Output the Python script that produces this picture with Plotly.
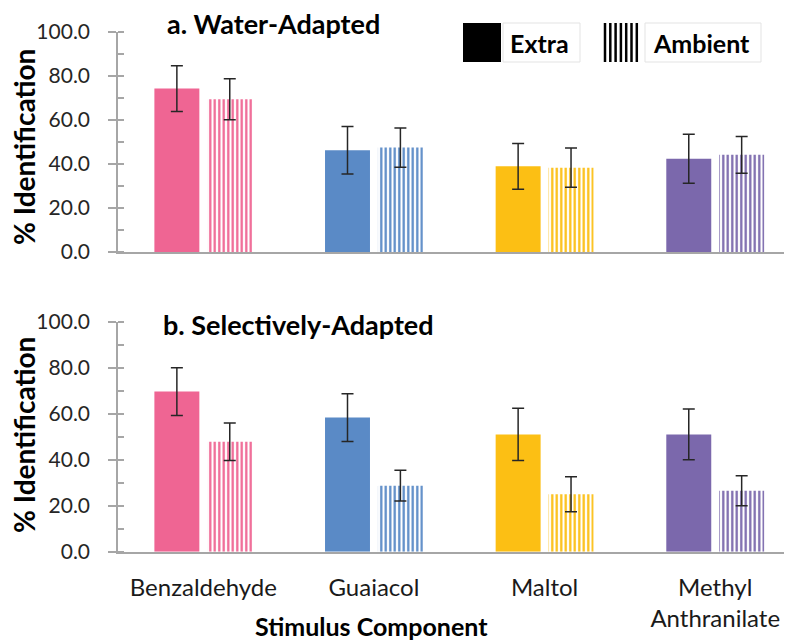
import plotly.graph_objects as go

categories = ["Benzaldehyde", "Guaiacol", "Maltol", "Methyl<br>Anthranilate"]
colors = ["#EF6593", "#5A8AC6", "#FCBF14", "#7B68AC"]

# Panel a: Water-Adapted
a_extra = [74.2, 46.2, 38.9, 42.3]
a_extra_err = [10.4, 10.8, 10.4, 11.1]
a_ambient = [69.3, 47.4, 38.3, 44.1]
a_ambient_err = [9.3, 8.9, 8.9, 8.3]

# Panel b: Selectively-Adapted
b_extra = [69.6, 58.3, 51.0, 51.0]
b_extra_err = [10.4, 10.4, 11.4, 11.0]
b_ambient = [47.8, 28.7, 25.0, 26.5]
b_ambient_err = [8.2, 6.7, 7.6, 6.5]

y_ticks = [0, 20, 40, 60, 80, 100]
y_ticktext = ["0.0", "20.0", "40.0", "60.0", "80.0", "100.0"]

# page body has an 8px margin; size the figure so it fits the 792x644 window
OX, OY = 8, 8
W, H = 784, 636
FONT = "Lato"


def px(x):
    return (x - OX) / W


def py(y):
    return 1 - (y - OY) / H


fig = go.Figure()

err_style = dict(type="data", visible=True, color="#262626", thickness=1.5, width=6)


def add_panel(extra, extra_err, amb, amb_err, xa, ya):
    fig.add_trace(go.Bar(
        x=categories, y=extra, name="Extra", xaxis=xa, yaxis=ya,
        marker=dict(color=colors, line=dict(width=0)),
        error_y=dict(array=extra_err, **err_style),
        showlegend=False,
    ))
    fig.add_trace(go.Bar(
        x=categories, y=amb, name="Ambient", xaxis=xa, yaxis=ya,
        marker=dict(color="white", line=dict(width=0),
                    pattern=dict(shape="|", fgcolor=colors, bgcolor="white",
                                 size=4.5, solidity=0.5, fillmode="replace")),
        error_y=dict(array=amb_err, **err_style),
        showlegend=False,
    ))


add_panel(a_extra, a_extra_err, a_ambient, a_ambient_err, "x", "y")
add_panel(b_extra, b_extra_err, b_ambient, b_ambient_err, "x2", "y2")

xdom = [px(118), 1.0]
yaxis_common = dict(
    range=[0, 100], tickvals=y_ticks, ticktext=y_ticktext,
    showgrid=False, zeroline=False, showline=True, linecolor="#A6A6A6", linewidth=1.5,
    ticks="outside", ticklen=8, tickcolor="#A6A6A6", tickwidth=1.5,
    ticklabelstandoff=14,
    tickfont=dict(family=FONT, size=21, color="#262626"),
    minor=dict(dtick=10, ticks="inside", ticklen=6, tickcolor="#A6A6A6", tickwidth=1.5),
    automargin=False,
)
xaxis_common = dict(
    range=[-0.5, 3.45], showgrid=False, zeroline=False, showline=True,
    linecolor="#A6A6A6", linewidth=1.5, ticks="", automargin=False,
)

fig.update_layout(
    width=W, height=H,
    margin=dict(l=0, r=0, t=0, b=0),
    paper_bgcolor="white", plot_bgcolor="white",
    barmode="group", bargap=0.38, bargroupgap=0.15,
    showlegend=False,
    xaxis=dict(domain=xdom, anchor="y", showticklabels=False, **xaxis_common),
    yaxis=dict(domain=[py(252), py(31.7)], anchor="x", **yaxis_common),
    xaxis2=dict(domain=xdom, anchor="y2", showticklabels=True,
                tickfont=dict(family=FONT, size=24, color="#1a1a1a"),
                ticklabelstandoff=14, **xaxis_common),
    yaxis2=dict(domain=[py(551.7), py(321.7)], anchor="x2", **yaxis_common),
    font=dict(family=FONT),
)

annotations = [
    dict(text="<b>a. Water-Adapted</b>", x=px(273), y=py(24), font=dict(size=27, color="black")),
    dict(text="<b>b. Selectively-Adapted</b>", x=px(298), y=py(324), font=dict(size=27, color="black")),
    dict(text="<b>% Identification</b>", x=px(24), y=py(147), textangle=-90, font=dict(size=28, color="black")),
    dict(text="<b>% Identification</b>", x=px(24), y=py(435), textangle=-90, font=dict(size=28, color="black")),
    dict(text="<b>Stimulus Component</b>", x=px(371), y=py(626), font=dict(size=25, color="black")),
    dict(text="<b>Extra</b>", x=px(539), y=py(43), font=dict(size=25, color="black")),
    dict(text="<b>Ambient</b>", x=px(701), y=py(43), font=dict(size=25, color="black")),
]
for a in annotations:
    a.update(xref="paper", yref="paper", showarrow=False, xanchor="center", yanchor="middle")
fig.update_layout(annotations=annotations)

shapes = [
    # legend swatch: Extra
    dict(type="rect", x0=px(463), x1=px(501), y0=py(62), y1=py(23), fillcolor="black", line=dict(width=0)),
    # legend label boxes
    dict(type="rect", x0=px(503), x1=px(580), y0=py(62), y1=py(23), fillcolor="rgba(0,0,0,0)",
         line=dict(color="#E3E3E3", width=1)),
    dict(type="rect", x0=px(645), x1=px(761), y0=py(62), y1=py(23), fillcolor="rgba(0,0,0,0)",
         line=dict(color="#E3E3E3", width=1)),
]
# legend swatch: Ambient (vertical stripes)
for i in range(7):
    xx = 605 + i * 5.3
    shapes.append(dict(type="line", x0=px(xx), x1=px(xx), y0=py(62), y1=py(23),
                       line=dict(color="black", width=2.5)))
for s in shapes:
    s.update(xref="paper", yref="paper")
fig.update_layout(shapes=shapes)

fig.write_html("out.html")
